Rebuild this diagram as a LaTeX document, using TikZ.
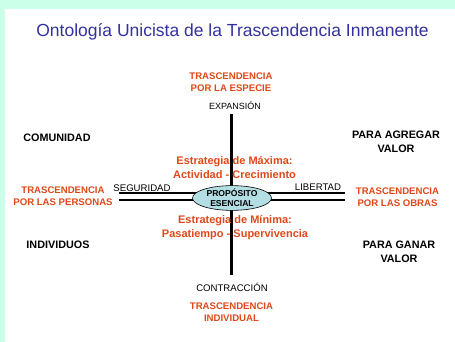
\documentclass[tikz,border=0pt]{standalone}
\usepackage{fontspec}
\setmainfont{Liberation Sans}
\usetikzlibrary{shapes.geometric}
\definecolor{mint}{RGB}{204,255,234}
\definecolor{ttl}{RGB}{51,51,160}
\definecolor{org}{RGB}{224,72,24}
\definecolor{ellfill}{RGB}{178,222,228}
\begin{document}
\begin{tikzpicture}[x=1pt,y=-1pt,
  orangelbl/.style={text=org, font=\bfseries\fontsize{9.6}{11.8}\selectfont, align=center, inner sep=0pt},
  blacklbl/.style={text=black, font=\bfseries\fontsize{10.8}{13.5}\selectfont, align=center, inner sep=0pt},
  axislbl/.style={font=\fontsize{9.6}{11}\selectfont, inner sep=0pt},
  strat/.style={text=org, font=\bfseries\fontsize{11}{14}\selectfont, align=center, inner sep=0pt},
  axisline/.style={line width=2.2pt},
]
\fill[mint] (0,0) rectangle (455,342);
\fill[white] (5,9) rectangle (455,342);
\useasboundingbox (0,0) rectangle (455,342);

\node[text=ttl, font=\fontsize{17.5}{20}\selectfont, inner sep=0pt] (title) at (232.5,32) {Ontología Unicista de la Trascendencia Inmanente};

% axes
\coordinate (top) at (231.5,114);
\coordinate (bot) at (231.5,275);
\coordinate (l1) at (119,192.8);
\coordinate (r1) at (345,192.8);
\coordinate (l2) at (119,199.6);
\coordinate (r2) at (345,199.6);
\draw[axisline] (top) -- (bot);
\draw[axisline] (l1) -- (r1);
\draw[axisline] (l2) -- (r2);

\node[ellipse, draw, fill=ellfill, minimum width=79pt, minimum height=22pt, inner sep=0pt, line width=0.6pt, font=\bfseries\fontsize{8.6}{9.8}\selectfont, align=center] (prop) at (232,198) {PROPÓSITO\\ESENCIAL};

% labels
\node[orangelbl] (especie) at (231,82) {TRASCENDENCIA\\POR LA ESPECIE};
\node[axislbl, font=\fontsize{9}{11}\selectfont] (exp) at (235,105.5) {EXPANSIÓN};
\node[blacklbl] (comun) at (57,138) {COMUNIDAD};
\node[blacklbl] (agregar) at (396,142) {PARA AGREGAR\\VALOR};
\node[strat] (maxima) at (234.5,168) {Estrategia de Máxima:\\Actividad - Crecimiento};
\node[axislbl] (seg) at (142,188.5) {SEGURIDAD};
\node[axislbl] (lib) at (318,187.5) {LIBERTAD};
\node[orangelbl] (personas) at (63,196.5) {TRASCENDENCIA\\POR LAS PERSONAS};
\node[orangelbl] (obras) at (397.5,197) {TRASCENDENCIA\\POR LAS OBRAS};
\node[strat] (minima) at (235,228) {Estrategia de Mínima:\\Pasatiempo - Supervivencia};
\node[blacklbl] (indiv) at (58,245) {INDIVIDUOS};
\node[blacklbl] (ganar) at (399,252) {PARA GANAR\\VALOR};
\node[axislbl] (contr) at (232,287.5) {CONTRACCIÓN};
\node[orangelbl] (individual) at (231.5,312) {TRASCENDENCIA\\INDIVIDUAL};
\end{tikzpicture}
\end{document}
